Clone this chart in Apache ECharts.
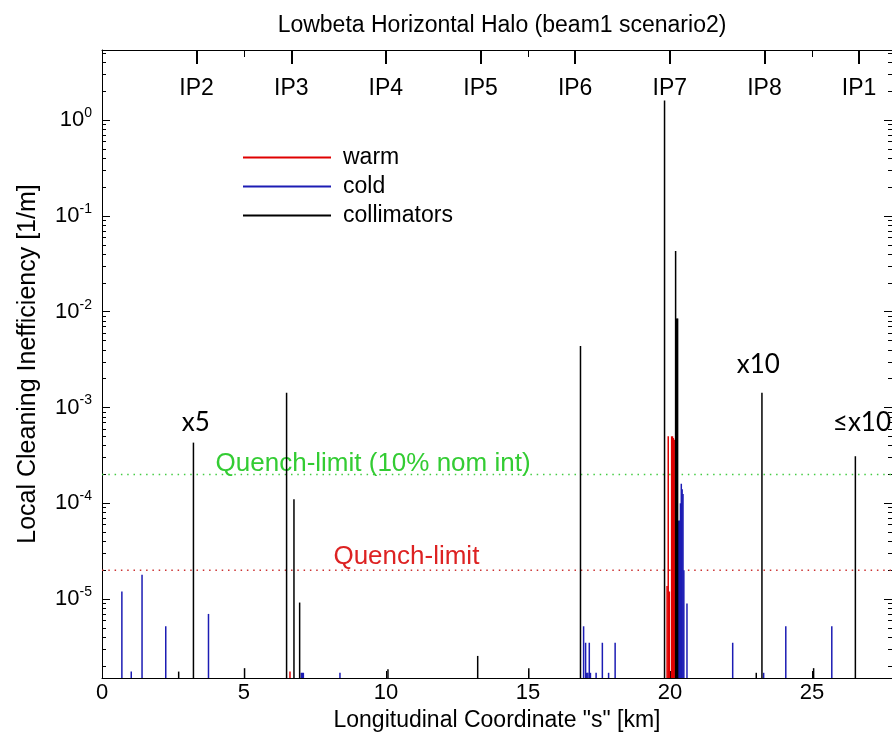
<!DOCTYPE html>
<html>
<head>
<meta charset="utf-8">
<script src="https://cdn.jsdelivr.net/npm/echarts@6/dist/echarts.min.js"></script>
<style>
  html, body { margin: 0; padding: 0; background: #fff; }
  #main { width: 892px; height: 743px; }
</style>
</head>
<body>
<div id="main"></div>
<script>
// s [km], local cleaning inefficiency [1/m]
const warm = [
  [6.62, 1.75e-6], [19.90, 1.37e-5], [19.94, 5.0e-4], [19.98, 1.2e-5],
  [20.06, 5.0e-4], [20.09, 5.0e-4], [20.12, 4.8e-4], [20.15, 4.6e-4]
]
const cold = [
  [0.70, 1.2e-5], [1.03, 1.75e-6], [1.41, 1.8e-5], [2.245, 5.2e-6], [3.75, 7.0e-6],
  [7.02, 1.7e-6], [7.06, 1.7e-6], [7.09, 1.7e-6], [8.38, 1.7e-6],
  [16.96, 5.2e-6], [17.03, 3.5e-6], [17.07, 1.7e-6], [17.11, 1.7e-6], [17.16, 3.5e-6],
  [17.20, 1.7e-6], [17.40, 1.7e-6], [17.62, 3.5e-6], [17.84, 1.7e-6], [18.07, 3.5e-6],
  [20.31, 6.6e-5], [20.34, 6.6e-5], [20.37, 1.0e-4], [20.40, 1.6e-4], [20.43, 1.4e-4],
  [20.46, 1.25e-4], [20.49, 2.0e-5], [20.60, 9.0e-6],
  [22.21, 3.5e-6], [23.30, 1.7e-6], [24.08, 5.2e-6], [25.70, 5.2e-6]
]
const collimators = [
  [2.70, 1.75e-6], [3.22, 4.3e-4], [5.02, 1.9e-6], [6.50, 1.43e-3], [6.76, 1.1e-4],
  [6.96, 9.2e-6], [10.07, 1.85e-6], [13.23, 2.55e-6], [15.03, 1.9e-6], [16.85, 4.4e-3],
  [19.81, 1.6], [20.20, 0.043], [20.24, 8.5e-3], [20.27, 8.5e-3],
  [23.04, 1.7e-6], [23.24, 1.43e-3], [25.06, 1.9e-6], [26.53, 3.1e-4]
]
const ipNames = ["IP2", "IP3", "IP4", "IP5", "IP6", "IP7", "IP8", "IP1"]
const ipPos = [3.332, 6.665, 9.997, 13.33, 16.662, 19.995, 23.327, 26.659]
const decades = [1e-5, 1e-4, 1e-3, 1e-2, 1e-1, 1]
// quench limits: value, label, where the label starts [km]
const limitValues = [2e-4, 2e-5]
const limitNames = ["Quench-limit (10% nom int)", "Quench-limit"]
const limitTextX = [4.0, 8.15]
// scaling factors written next to some collimators
const noteNames = ["x5", "x10", "≤x10"]
const notePos = [[3.30, 6.9e-4], [23.11, 2.8e-3], [26.76, 6.9e-4]]

const X_MAX = 27.82
const Y_MIN = 1.5e-6
const Y_MAX = 5.4
const SANS = "'Liberation Sans', Arial, sans-serif"
const limitLineColors = ["#44cc44", "#cc3333"]
const limitTextColors = ["#33cc33", "#dd2222"]

const minorTicks = []
for (let e = -6; e <= 0; e++) {
  for (let k = 2; k <= 9; k++) minorTicks.push(k * Math.pow(10, e))
}

function renderBar(params, api) {
  const top = api.coord([api.value(0), api.value(1)])
  const base = api.coord([api.value(0), Y_MIN])
  return {
    type: "line",
    shape: { x1: top[0], y1: top[1], x2: base[0], y2: base[1] },
    style: { stroke: api.visual("color"), lineWidth: 1.5 }
  }
}

function renderLimit(params, api) {
  const i = params.dataIndex
  const v = api.value(0)
  const a = api.coord([0, v])
  const b = api.coord([X_MAX, v])
  const t = api.coord([limitTextX[i], v])
  return {
    type: "group",
    children: [
      {
        type: "line",
        shape: { x1: a[0], y1: a[1], x2: b[0], y2: b[1] },
        style: { stroke: limitLineColors[i], lineWidth: 1.5, lineDash: [1.5, 4.8] }
      },
      {
        type: "text",
        x: t[0],
        y: t[1] - (i === 0 ? 11 : 13),
        style: { text: limitNames[i], fill: limitTextColors[i], font: "26px " + SANS, align: "left", verticalAlign: "middle" }
      }
    ]
  }
}

function renderNote(params, api) {
  const p = api.coord([api.value(0), api.value(1)])
  return {
    type: "text",
    x: p[0],
    y: p[1],
    style: { text: noteNames[params.dataIndex], fill: "#000", font: "26px Lato, sans-serif", align: "center", verticalAlign: "middle" }
  }
}

function barSeries(name, data, color) {
  return {
    name: name,
    type: "custom",
    renderItem: renderBar,
    data: data,
    itemStyle: { color: color },
    clip: true,
    silent: true
  }
}

function logAxis(position, ticks, len, showLine, showLabel) {
  return {
    type: "log",
    position: position,
    min: Y_MIN,
    max: Y_MAX,
    axisLine: { show: showLine, onZero: false, lineStyle: { color: "#000", width: 1 } },
    axisTick: { show: true, inside: true, length: len, customValues: ticks, lineStyle: { color: "#000" } },
    axisLabel: showLabel ? {
      customValues: ticks,
      margin: 10,
      formatter: v => "{b|10}{s|" + Math.round(Math.log10(v)) + "}",
      rich: {
        b: { fontSize: 22, fontFamily: SANS, color: "#000" },
        s: { fontSize: 14, fontFamily: SANS, color: "#000", padding: [0, 0, 14, 0] }
      }
    } : { show: false },
    splitLine: { show: false }
  }
}

const myChart = echarts.init(document.getElementById("main"))
myChart.setOption({
  animation: false,
  backgroundColor: "#fff",
  title: {
    text: "Lowbeta Horizontal Halo (beam1 scenario2)",
    left: 497,
    textAlign: "center",
    top: 9,
    textStyle: { fontSize: 23, fontWeight: "normal", fontFamily: SANS, color: "#000" }
  },
  grid: { left: 102, right: -1, top: 50, bottom: 65 },
  legend: {
    orient: "vertical",
    left: 243,
    top: 146,
    padding: 0,
    icon: "rect",
    itemWidth: 88,
    itemHeight: 2,
    itemGap: 6,
    data: ["warm", "cold", "collimators"],
    textStyle: { fontSize: 23, fontFamily: SANS, color: "#000", lineHeight: 20, padding: [0, 0, 0, 7] }
  },
  xAxis: [
    {
      type: "value", position: "bottom", min: 0, max: X_MAX, interval: 5,
      name: 'Longitudinal Coordinate "s" [km]',
      nameLocation: "middle",
      nameGap: 29,
      nameTextStyle: { fontSize: 23, fontFamily: SANS, color: "#000" },
      axisLine: { onZero: false, lineStyle: { color: "#000" } },
      axisTick: { inside: true, length: 7, lineStyle: { color: "#000" } },
      axisLabel: { fontSize: 22, fontFamily: SANS, color: "#000", margin: 4, showMaxLabel: false },
      splitLine: { show: false }
    },
    {
      type: "value", position: "top", min: 0, max: X_MAX, interval: 5,
      axisLine: { onZero: false, lineStyle: { color: "#000" } },
      axisTick: { inside: true, length: 7, lineStyle: { color: "#000" } },
      axisLabel: { show: false },
      splitLine: { show: false }
    },
    {
      type: "value", position: "top", min: 0, max: X_MAX,
      axisLine: { show: false },
      axisTick: { inside: true, length: 14, customValues: ipPos, lineStyle: { color: "#000", width: 2 } },
      axisLabel: {
        inside: true,
        margin: 27,
        customValues: ipPos,
        fontSize: 23, fontFamily: SANS, color: "#000",
        formatter: v => ipNames[ipPos.findIndex(p => Math.abs(p - v) < 0.01)]
      },
      splitLine: { show: false }
    }
  ],
  yAxis: [
    Object.assign(logAxis("left", decades, 8, true, true), {
      name: "Local Cleaning Inefficiency [1/m]",
      nameLocation: "middle",
      nameGap: 61,
      nameTextStyle: { fontSize: 25, fontFamily: SANS, color: "#000" }
    }),
    logAxis("left", minorTicks, 4, false, false),
    logAxis("right", decades, 8, true, false),
    logAxis("right", minorTicks, 4, false, false)
  ],
  series: [
    {
      name: "limits",
      type: "custom",
      renderItem: renderLimit,
      data: limitValues.map(v => [v]),
      clip: false,
      silent: true,
      z: 1
    },
    barSeries("warm", warm, "#e00000"),
    barSeries("cold", cold, "#1c1cb4"),
    barSeries("collimators", collimators, "#000"),
    {
      name: "notes",
      type: "custom",
      renderItem: renderNote,
      data: notePos,
      clip: false,
      silent: true
    }
  ]
})
</script>
</body>
</html>
